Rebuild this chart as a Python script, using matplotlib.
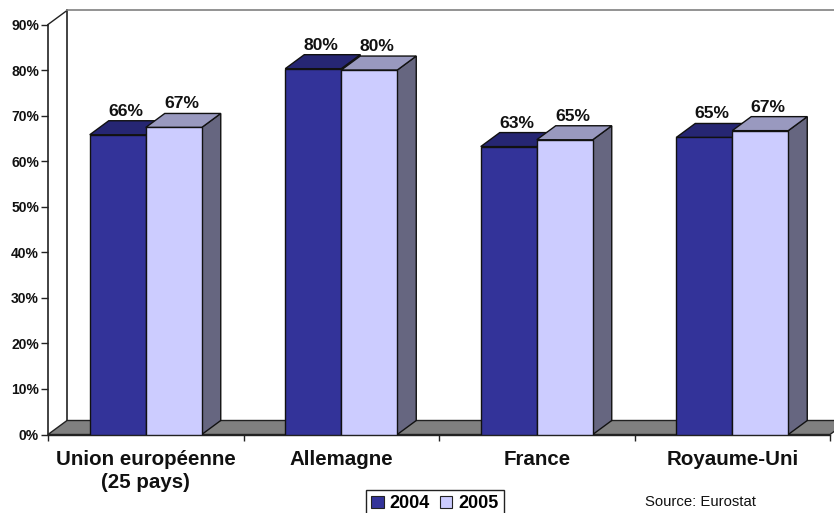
import matplotlib
matplotlib.use("Agg")
import matplotlib.pyplot as plt
from matplotlib.patches import Polygon, Patch
from matplotlib.ticker import FuncFormatter

plt.rcParams['font.family'] = ['Liberation Sans', 'DejaVu Sans']

categories = ["Union européenne\n(25 pays)", "Allemagne", "France", "Royaume-Uni"]
years = ["2004", "2005"]
v2004 = [65.8, 80.3, 63.2, 65.2]
v2005 = [67.4, 80.0, 64.7, 66.7]

front = ["#333399", "#CCCCFF"]
top = ["#262673", "#9999BF"]
side = ["#262673", "#666680"]

W, H = 834, 513
fig = plt.figure(figsize=(W / 100, H / 100), dpi=100)
ax = fig.add_axes([48 / W, 1 - 434.5 / H, 782 / W, 410 / H])
ax.set_xlim(0, 4)
ax.set_ylim(0, 90)

# fake 3d depth, in data units
dx = 19 / 195.5
dy = 14 / 4.555
bw = 56 / 195.5

# floor and back wall
ax.add_patch(Polygon([(0, 0), (dx, dy), (4 + dx, dy), (4, 0)], closed=True, fc="#808080",
                     ec="#222222", lw=1, clip_on=False, zorder=1))
ax.plot([dx, dx], [dy, 90 + dy], color="#222222", lw=1.2, clip_on=False, zorder=1)
ax.plot([0, dx], [90, 90 + dy], color="#222222", lw=1, clip_on=False, zorder=1)
ax.plot([dx, 4 + dx], [90 + dy, 90 + dy], color="#808080", lw=1.2, clip_on=False, zorder=1)

for i, vals in enumerate([v2004, v2005]):
    for j, v in enumerate(vals):
        x0 = j + 0.5 - bw + i * bw
        x1 = x0 + bw
        z = 3 + j * 3 + i * 0.5
        ax.add_patch(Polygon([(x1, 0), (x1 + dx, dy), (x1 + dx, v + dy), (x1, v)], closed=True,
                             fc=side[i], ec="#111111", lw=1, clip_on=False, zorder=z))
        ax.add_patch(Polygon([(x0, v), (x0 + dx, v + dy), (x1 + dx, v + dy), (x1, v)], closed=True,
                             fc=top[i], ec="#111111", lw=1, clip_on=False, zorder=z))
        ax.bar(x0, v, width=bw, align="edge", color=front[i], edgecolor="#111111", lw=1, zorder=z)
        ax.text((x0 + x1) / 2 + dx * 0.42, v + dy + 0.45, "%d%%" % round(v), ha="center", va="bottom",
                fontsize=12.6, fontweight="bold", color="#111111", zorder=30)

ax.spines["top"].set_visible(False)
ax.spines["right"].set_visible(False)
ax.spines["left"].set_linewidth(1.2)
ax.spines["bottom"].set_linewidth(1.0)
ax.spines["left"].set_color("#222222")
ax.spines["bottom"].set_color("#222222")
ax.patch.set_alpha(0)

ax.set_yticks(range(0, 100, 10))
ax.yaxis.set_major_formatter(FuncFormatter(lambda v, p: "%d%%" % v))
ax.tick_params(axis="y", length=5, width=1, pad=1.5, labelsize=10, color="#222222", labelcolor="#111111")
for t in ax.get_yticklabels():
    t.set_fontweight("bold")

ax.set_xticks(range(0, 5))
ax.set_xticklabels([])
ax.tick_params(axis="x", which="major", length=4.5, width=1, color="#222222")
ax.set_xticks([j + 0.5 for j in range(4)], minor=True)
ax.set_xticklabels(categories, minor=True, fontsize=14.8, fontweight="bold", color="#111111", linespacing=1.3)
ax.tick_params(axis="x", which="minor", length=0, pad=11)

# legend box runs off the bottom of the image like the original
handles = [Patch(fc=front[i], ec="#222222", lw=0.8, label=years[i]) for i in range(2)]
leg = fig.legend(handles=handles, loc="upper left", bbox_to_anchor=(366 / W, 1 - 490 / H), ncol=2,
                 frameon=True, fancybox=False, edgecolor="#222222", framealpha=1,
                 prop={"weight": "bold", "size": 13}, handlelength=0.68, handleheight=0.68,
                 handletextpad=0.33, columnspacing=0.55, borderpad=0.3, borderaxespad=0)
leg.get_frame().set_linewidth(1)

fig.text(645 / W, 1 - 506 / H, "Source: Eurostat", fontsize=10.7, color="#111111",
         family=["Liberation Sans Narrow", "Liberation Sans"])

fig.savefig("out.png", dpi=100)
